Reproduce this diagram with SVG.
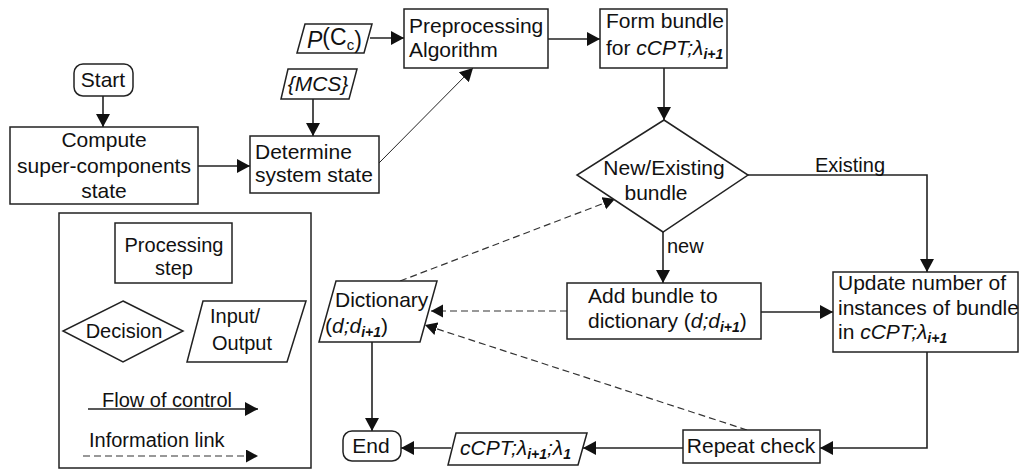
<svg xmlns="http://www.w3.org/2000/svg" width="1019" height="470" viewBox="0 0 1019 470">
<defs>
<marker id="ah" markerUnits="userSpaceOnUse" markerWidth="14" markerHeight="14" refX="13" refY="7" orient="auto">
<path d="M0,0 L13,7 L0,14 z" fill="#111"/>
</marker>
<marker id="ahs" markerUnits="userSpaceOnUse" markerWidth="14" markerHeight="14" refX="12" refY="6.5" orient="auto">
<path d="M0,0 L12,6.5 L0,13 z" fill="#111"/>
</marker>
<style>
.b{fill:#fff;stroke:#222;stroke-width:1.5}
.t{font-family:"Liberation Sans",Arial,sans-serif;font-size:21px;fill:#111}
.s{font-family:"Liberation Sans",Arial,sans-serif;font-size:20px;fill:#111}
.c{text-anchor:middle}
.i{font-style:italic}
.sub{font-size:14px;font-weight:bold;font-style:italic}
.l{fill:none;stroke:#222;stroke-width:1.6}
.d{fill:none;stroke:#333;stroke-width:1.2;stroke-dasharray:7 4}
</style>
</defs>
<rect width="1019" height="470" fill="#fff"/>

<g id="connectors">
<path class="l" d="M103,96 V127" marker-end="url(#ah)"/>
<path class="l" d="M198,166 H250" marker-end="url(#ah)"/>
<path class="l" d="M313,99 V136" marker-end="url(#ah)"/>
<path class="l" d="M370,38 H404" marker-end="url(#ah)"/>
<path class="l" style="stroke-width:1" d="M379,163 L473,68" marker-end="url(#ah)"/>
<path class="l" d="M548,39 H600" marker-end="url(#ah)"/>
<path class="l" d="M664,68 V120" marker-end="url(#ah)"/>
<path class="l" d="M663,232 V283" marker-end="url(#ah)"/>
<path class="l" d="M748,175 H927 V272" marker-end="url(#ah)"/>
<path class="l" d="M761,312 H833" marker-end="url(#ah)"/>
<path class="l" d="M927,352 V448 H820" marker-end="url(#ah)"/>
<path class="l" d="M683,448 H583" marker-end="url(#ah)"/>
<path class="l" d="M451,448 H401" marker-end="url(#ah)"/>
<path class="l" d="M372,342 V431" marker-end="url(#ah)"/>
<path class="d" d="M567,311 H431" marker-end="url(#ahs)"/>
<path class="d" d="M747,430 L425,325" marker-end="url(#ahs)"/>
<path class="d" d="M400,281 L615,199" marker-end="url(#ahs)"/>
<text class="s" x="815" y="172">Existing</text>
<text class="s" x="667" y="253">new</text>
</g>

<g id="start">
<rect class="b" x="74" y="64" width="59" height="32" rx="9"/>
<text class="t c" x="103" y="87">Start</text>
</g>

<g id="compute">
<rect class="b" x="10" y="127" width="188" height="77"/>
<text class="t c" x="104" y="147">Compute</text>
<text class="t c" x="104" y="173">super-components</text>
<text class="t c" x="104" y="198">state</text>
</g>

<g id="determine">
<rect class="b" x="250" y="136" width="129" height="57"/>
<text class="t" x="255" y="159">Determine</text>
<text class="t" x="255" y="182">system state</text>
</g>

<g id="mcs">
<polygon class="b" points="288,69 357,69 349,99 281,99"/>
<text class="t i c" x="318" y="91">{MCS}</text>
</g>

<g id="pcc">
<polygon class="b" points="305,24 372,24 364,53 297,53"/>
<text class="t" style="font-size:23px" x="307" y="48"><tspan class="i">P</tspan><tspan dy="-3">(C</tspan><tspan style="font-size:15px" dy="5">c</tspan><tspan dy="-2">)</tspan></text>
</g>

<g id="preprocessing">
<rect class="b" x="404" y="9" width="144" height="59"/>
<text class="t" x="409" y="33">Preprocessing</text>
<text class="t" x="409" y="57">Algorithm</text>
</g>

<g id="formbundle">
<rect class="b" x="600" y="9" width="127" height="59"/>
<text class="t" x="606" y="28">Form bundle</text>
<text class="t" x="606" y="55">for <tspan class="i">cCPT;λ</tspan><tspan class="sub" dy="4">i+1</tspan></text>
</g>

<g id="decision">
<polygon class="b" points="664,120 748,175 663,232 577,175"/>
<text class="t c" x="664" y="175">New/Existing</text>
<text class="t c" x="656" y="200">bundle</text>
</g>

<g id="addbundle">
<rect class="b" x="567" y="283" width="194" height="56"/>
<text class="t" x="588" y="303">Add bundle to</text>
<text class="t" x="588" y="328">dictionary (<tspan class="i">d;d</tspan><tspan class="sub" dy="4">i+1</tspan><tspan dy="-4">)</tspan></text>
</g>

<g id="update">
<rect class="b" x="833" y="272" width="185" height="80"/>
<text class="t" x="838" y="290">Update number of</text>
<text class="t" x="838" y="315">instances of bundle</text>
<text class="t" x="838" y="339">in <tspan class="i">cCPT;λ</tspan><tspan class="sub" dy="4">i+1</tspan></text>
</g>

<g id="repeat">
<rect class="b" x="683" y="430" width="137" height="33"/>
<text class="t c" x="751" y="453">Repeat check</text>
</g>

<g id="cptout">
<polygon class="b" points="456,433 587,433 578,465 448,465"/>
<text class="t i" x="460" y="455">cCPT;λ<tspan class="sub" dy="4">i+1</tspan><tspan dy="-4">;λ</tspan><tspan class="sub" dy="4">1</tspan></text>
</g>

<g id="end">
<rect class="b" x="343" y="431" width="58" height="30" rx="9"/>
<text class="t c" x="371" y="453">End</text>
</g>

<g id="dictionary">
<polygon class="b" points="336,281 437,281 420,342 319,342"/>
<text class="t" x="335" y="307">Dictionary</text>
<text class="t" x="325" y="333">(<tspan class="i">d;d</tspan><tspan class="sub" dy="4">i+1</tspan><tspan dy="-4">)</tspan></text>
</g>

<g id="legend">
<rect class="b" x="59" y="213" width="252" height="255"/>
<rect class="b" x="115" y="223" width="117" height="60"/>
<text class="s c" x="174" y="252">Processing</text>
<text class="s c" x="174" y="275">step</text>
<polygon class="b" points="123,301 183,331 123,362 63,331"/>
<text class="s c" x="124" y="338">Decision</text>
<polygon class="b" points="203,301 306,301 287,362 187,362"/>
<text class="s" x="210" y="323">Input/</text>
<text class="s" x="212" y="350">Output</text>
<text class="s" x="102" y="407">Flow of control</text>
<path class="l" d="M88,409 H258" marker-end="url(#ah)"/>
<text class="s" x="89" y="447">Information link</text>
<path class="d" d="M83,456 H258" marker-end="url(#ahs)"/>
</g>
</svg>
